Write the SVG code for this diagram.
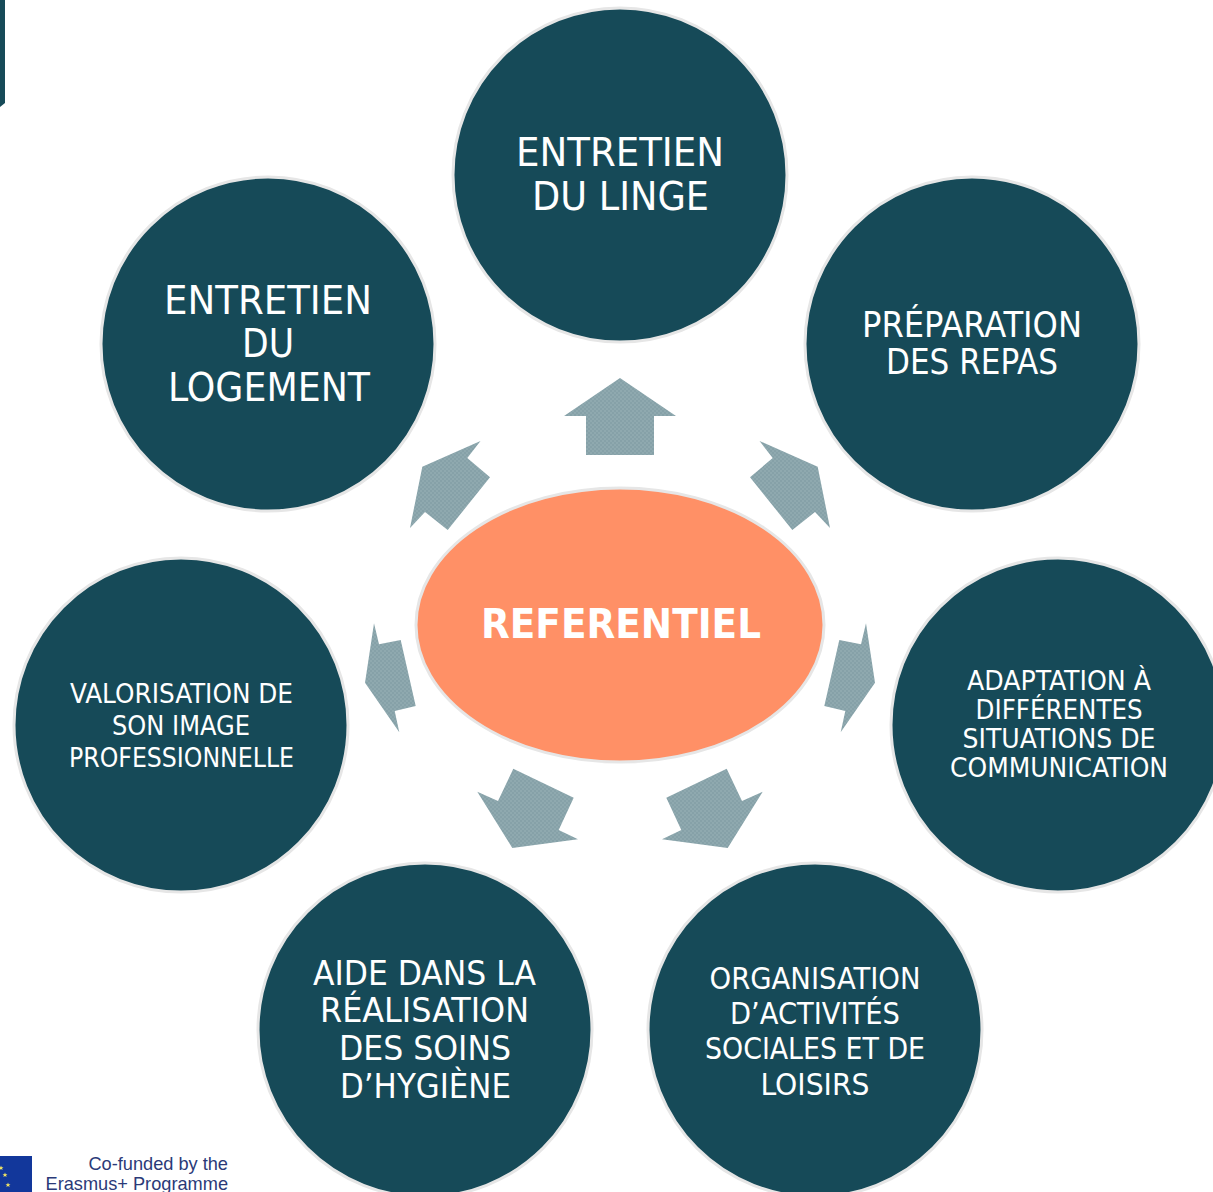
<svg xmlns="http://www.w3.org/2000/svg" width="1213" height="1192" viewBox="0 0 1213 1192">
<style>
.c{fill:#164a58;stroke:#e6e6e6;stroke-width:3}
.t{fill:#fff;font-family:"DejaVu Sans Condensed","DejaVu Sans",sans-serif;text-anchor:middle}
.a{fill:url(#chk)}
.l{fill:#2b3a78;font-family:"Liberation Sans",Arial,sans-serif;font-size:18.2px;text-anchor:end}
</style>
<defs>
<pattern id="chk" width="4" height="4" patternUnits="userSpaceOnUse">
<rect width="4" height="4" fill="#8fa9af"/>
<rect width="2" height="2" fill="#86a1a8"/>
<rect x="2" y="2" width="2" height="2" fill="#86a1a8"/>
</pattern>
<polygon id="star" points="0,-2.6 0.7,-0.8 2.5,-0.8 1.1,0.3 1.6,2.1 0,1 -1.6,2.1 -1.1,0.3 -2.5,-0.8 -0.7,-0.8" fill="#f5e663"/>
</defs>
<rect width="1213" height="1192" fill="#fff"/>
<path id="corner" d="M0 0H5V103L0 107Z" fill="#164a58"/>
<g id="connectors">
<polygon class="a" points="620,378 676,416 654,416 654,455 586,455 586,416 564,416"/>
<polygon class="a" points="759.5,441 817.7,466.7 830,528 815,512 792.3,530 750,477.3 772.7,458"/>
<polygon class="a" points="480.5,441 422.3,466.7 410,528 425,512 447.7,530 490,477.3 467.3,458"/>
<polygon class="a" points="374,623.3 379,644.3 400.7,640 415.7,706 394.7,711 399.3,732.3 365,682.7"/>
<polygon class="a" points="866,623.3 861,644.3 839.3,640 824.3,706 845.3,711 840.7,732.3 875,682.7"/>
<polygon class="a" points="513.3,768.7 573.7,797.7 558.7,830 578,839.3 512.3,848 477.3,791.7 498,801"/>
<polygon class="a" points="726.7,768.7 666.3,797.7 681.3,830 662,839.3 727.7,848 762.7,791.7 742,801"/>
</g>
<g id="center">
<ellipse cx="620" cy="625" rx="204" ry="137" fill="#ff9066" stroke="#e6e6e6" stroke-width="3"/>
<text x="621" y="638" font-size="41" font-weight="700" fill="#fff" text-anchor="middle" font-family="'DejaVu Sans Condensed','DejaVu Sans',sans-serif" textLength="280" lengthAdjust="spacingAndGlyphs">REFERENTIEL</text>
</g>
<g id="node-linge">
<circle class="c" cx="620" cy="175" r="167"/>
<text class="t" font-size="39" lengthAdjust="spacingAndGlyphs"><tspan x="620" y="166" textLength="208" lengthAdjust="spacingAndGlyphs">ENTRETIEN</tspan></text>
<text class="t" font-size="39"><tspan x="620.5" y="210" textLength="177" lengthAdjust="spacingAndGlyphs">DU LINGE</tspan></text>
</g>
<g id="node-repas">
<circle class="c" cx="972" cy="344" r="167"/>
<text class="t" font-size="35" x="972" y="337" textLength="220" lengthAdjust="spacingAndGlyphs">PRÉPARATION</text>
<text class="t" font-size="35" x="972" y="374" textLength="172" lengthAdjust="spacingAndGlyphs">DES REPAS</text>
</g>
<g id="node-communication">
<circle class="c" cx="1058" cy="725" r="167"/>
<text class="t" font-size="27" x="1059" y="690" textLength="184" lengthAdjust="spacingAndGlyphs">ADAPTATION À</text>
<text class="t" font-size="27" x="1059" y="719" textLength="167" lengthAdjust="spacingAndGlyphs">DIFFÉRENTES</text>
<text class="t" font-size="27" x="1059" y="748" textLength="193" lengthAdjust="spacingAndGlyphs">SITUATIONS DE</text>
<text class="t" font-size="27" x="1059" y="777" textLength="218" lengthAdjust="spacingAndGlyphs">COMMUNICATION</text>
</g>
<g id="node-organisation">
<circle class="c" cx="815" cy="1030" r="167"/>
<text class="t" font-size="30" x="815" y="989" textLength="211" lengthAdjust="spacingAndGlyphs">ORGANISATION</text>
<text class="t" font-size="30" x="815" y="1024" textLength="170" lengthAdjust="spacingAndGlyphs">D’ACTIVITÉS</text>
<text class="t" font-size="30" x="815" y="1059" textLength="220" lengthAdjust="spacingAndGlyphs">SOCIALES ET DE</text>
<text class="t" font-size="30" x="815" y="1095" textLength="109" lengthAdjust="spacingAndGlyphs">LOISIRS</text>
</g>
<g id="node-hygiene">
<circle class="c" cx="425" cy="1030" r="167"/>
<text class="t" font-size="34" x="424.500" y="985" textLength="223" lengthAdjust="spacingAndGlyphs">AIDE DANS LA</text>
<text class="t" font-size="34" x="424.500" y="1022" textLength="209" lengthAdjust="spacingAndGlyphs">RÉALISATION</text>
<text class="t" font-size="34" x="425" y="1060" textLength="172" lengthAdjust="spacingAndGlyphs">DES SOINS</text>
<text class="t" font-size="34" x="425.500" y="1098" textLength="171" lengthAdjust="spacingAndGlyphs">D’HYGIÈNE</text>
</g>
<g id="node-image">
<circle class="c" cx="181" cy="725" r="167"/>
<text class="t" font-size="26" x="181.500" y="703" textLength="223" lengthAdjust="spacingAndGlyphs">VALORISATION DE</text>
<text class="t" font-size="26" x="181" y="735" textLength="138" lengthAdjust="spacingAndGlyphs">SON IMAGE</text>
<text class="t" font-size="26" x="181.500" y="767" textLength="225" lengthAdjust="spacingAndGlyphs">PROFESSIONNELLE</text>
</g>
<g id="node-logement">
<circle class="c" cx="268" cy="344" r="167"/>
<text class="t" font-size="39" x="268" y="314" textLength="208" lengthAdjust="spacingAndGlyphs">ENTRETIEN</text>
<text class="t" font-size="39" x="268" y="357" textLength="52" lengthAdjust="spacingAndGlyphs">DU</text>
<text class="t" font-size="39" x="269" y="401" textLength="202" lengthAdjust="spacingAndGlyphs">LOGEMENT</text>
</g>
<g id="logo">
<rect x="-40" y="1156" width="72" height="40" fill="#12379b"/>
<use href="#star" x="1" y="1168"/>
<use href="#star" x="5" y="1175"/>
<use href="#star" x="8" y="1185"/>
<text class="l" x="228" y="1170">Co-funded by the</text>
<text class="l" x="228" y="1190">Erasmus+ Programme</text>
</g>
</svg>
